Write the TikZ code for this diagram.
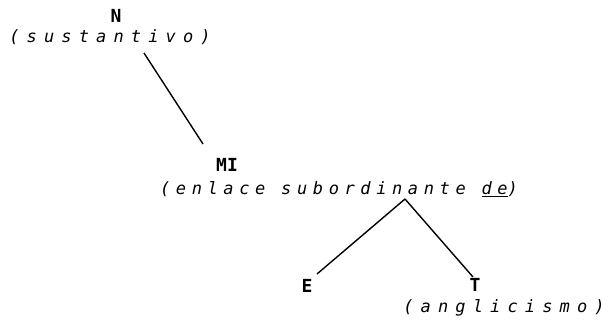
\documentclass[tikz,border=0pt]{standalone}
\usepackage{fontspec}
\newfontfamily\glossfont[LetterSpace=33]{DejaVu Sans Mono Oblique}
\newfontfamily\widegloss[LetterSpace=42]{DejaVu Sans Mono Oblique}
\newfontfamily\labelfont{DejaVu Sans Mono Bold}
\begin{document}
\begin{tikzpicture}[x=1pt,y=-1pt,
  cat/.style={font=\labelfont\fontsize{18}{18}\selectfont, inner sep=0pt},
  gloss/.style={font=\glossfont\fontsize{17}{17}\selectfont, inner sep=0pt},
  wgloss/.style={font=\widegloss\fontsize{17}{17}\selectfont, inner sep=0pt},
  branch/.style={line width=1.4pt}]
\useasboundingbox (0,0) rectangle (608,324);
\node[cat] (N) at (116,16) {N};
\node[wgloss] (sust) at (110,37) {(sustantivo)};
\node[cat] (MI) at (227,165) {MI};
\node[gloss] (enl) at (339,189) {(enlace subordinante \underline{de})};
\node[cat] (E) at (307,286) {E};
\node[cat] (T) at (475,285) {T};
\node[wgloss] (angl) at (504,308) {(anglicismo)};
\coordinate (nTop) at (144,53);
\coordinate (miTop) at (203,144);
\coordinate (apex) at (405,199);
\coordinate (eTop) at (317,274);
\coordinate (tTop) at (473,277);
\draw[branch] (nTop) -- (miTop);
\draw[branch] (apex) -- (eTop);
\draw[branch] (apex) -- (tTop);
\end{tikzpicture}
\end{document}
